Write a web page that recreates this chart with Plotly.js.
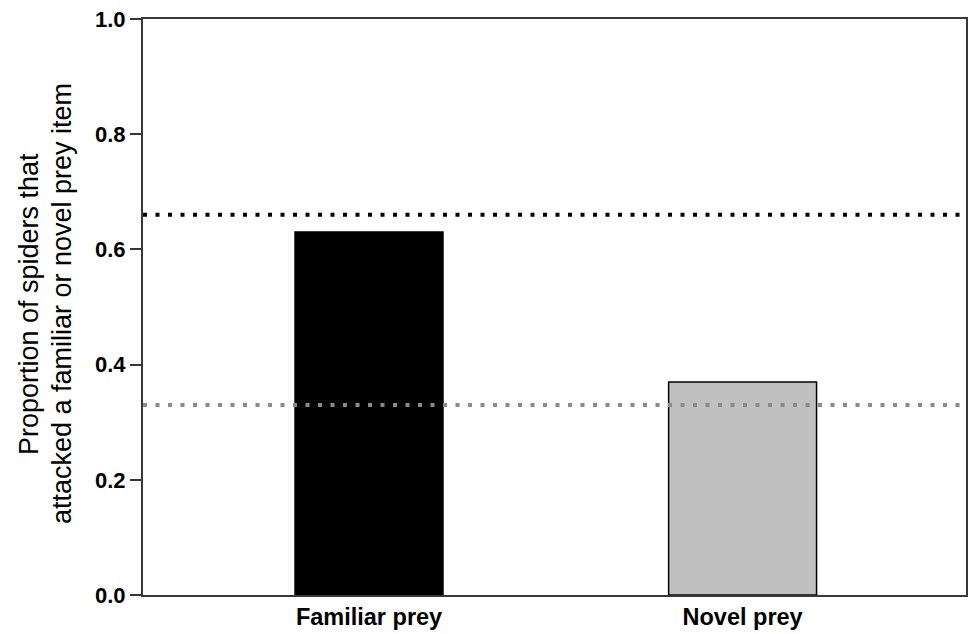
<!DOCTYPE html>
<html>
<head>
<meta charset="utf-8">
<script src="https://cdn.plot.ly/plotly-3.0.1.min.js"></script>
<style>html,body{margin:0;padding:0;background:#fff;}#chart{width:972px;height:634px;}</style>
</head>
<body>
<div id="chart"></div>
<script>
var categories = ["Familiar prey", "Novel prey"];
var proportions = [0.63, 0.37];
var barColors = ["#000000", "#c0c0c0"];
var refLevels = [0.66, 0.33];
var refColors = ["#000000", "#8a8a8a"];
var yTicks = [0, 0.2, 0.4, 0.6, 0.8, 1.0];
var yTitleLines = ["Proportion of spiders that", "attacked a familiar or novel prey item"];

var trace = {
  type: "bar",
  x: categories,
  y: proportions,
  width: 0.396,
  marker: {color: barColors, line: {color: "#000000", width: 1.5}},
  hoverinfo: "x+y"
};

var shapes = refLevels.map(function (v, i) {
  return {
    type: "line", xref: "paper", yref: "y",
    x0: 0, x1: 1, y0: v, y1: v,
    line: {color: refColors[i], width: 4, dash: "4px,8.5px"},
    layer: "above"
  };
});

var plotLeft = 143, plotWidth = 972 - 143 - 6;
var titleX = [29, 62];
var annotations = yTitleLines.map(function (t, i) {
  return {
    text: t, xref: "paper", yref: "paper",
    x: (titleX[i] - plotLeft) / plotWidth, y: 0.505,
    xanchor: "center", yanchor: "middle",
    textangle: -90, showarrow: false,
    font: {size: 27, family: "Liberation Sans, Arial, sans-serif", color: "#000"}
  };
});

var layout = {
  width: 972, height: 634,
  margin: {l: 143, r: 6, t: 19, b: 39},
  paper_bgcolor: "#ffffff", plot_bgcolor: "#ffffff",
  showlegend: false,
  font: {family: "Liberation Sans, Arial, sans-serif", color: "#000"},
  xaxis: {
    type: "category",
    range: [-0.605, 1.598],
    showline: true, linecolor: "#383838", linewidth: 2, mirror: true,
    ticks: "", showgrid: false, zeroline: false,
    tickfont: {size: 23.5, family: "Liberation Sans, Arial, sans-serif", weight: "bold"}
  },
  yaxis: {
    range: [0, 1.0],
    tickvals: yTicks, tickformat: ".1f",
    showline: true, linecolor: "#383838", linewidth: 2, mirror: true,
    ticks: "outside", ticklen: 11, tickwidth: 2, tickcolor: "#383838",
    showgrid: false, zeroline: false,
    tickfont: {size: 22, family: "Liberation Sans, Arial, sans-serif", weight: "bold"}
  },
  shapes: shapes,
  annotations: annotations
};

Plotly.newPlot("chart", [trace], layout, {displayModeBar: false, staticPlot: true});
</script>
</body>
</html>
